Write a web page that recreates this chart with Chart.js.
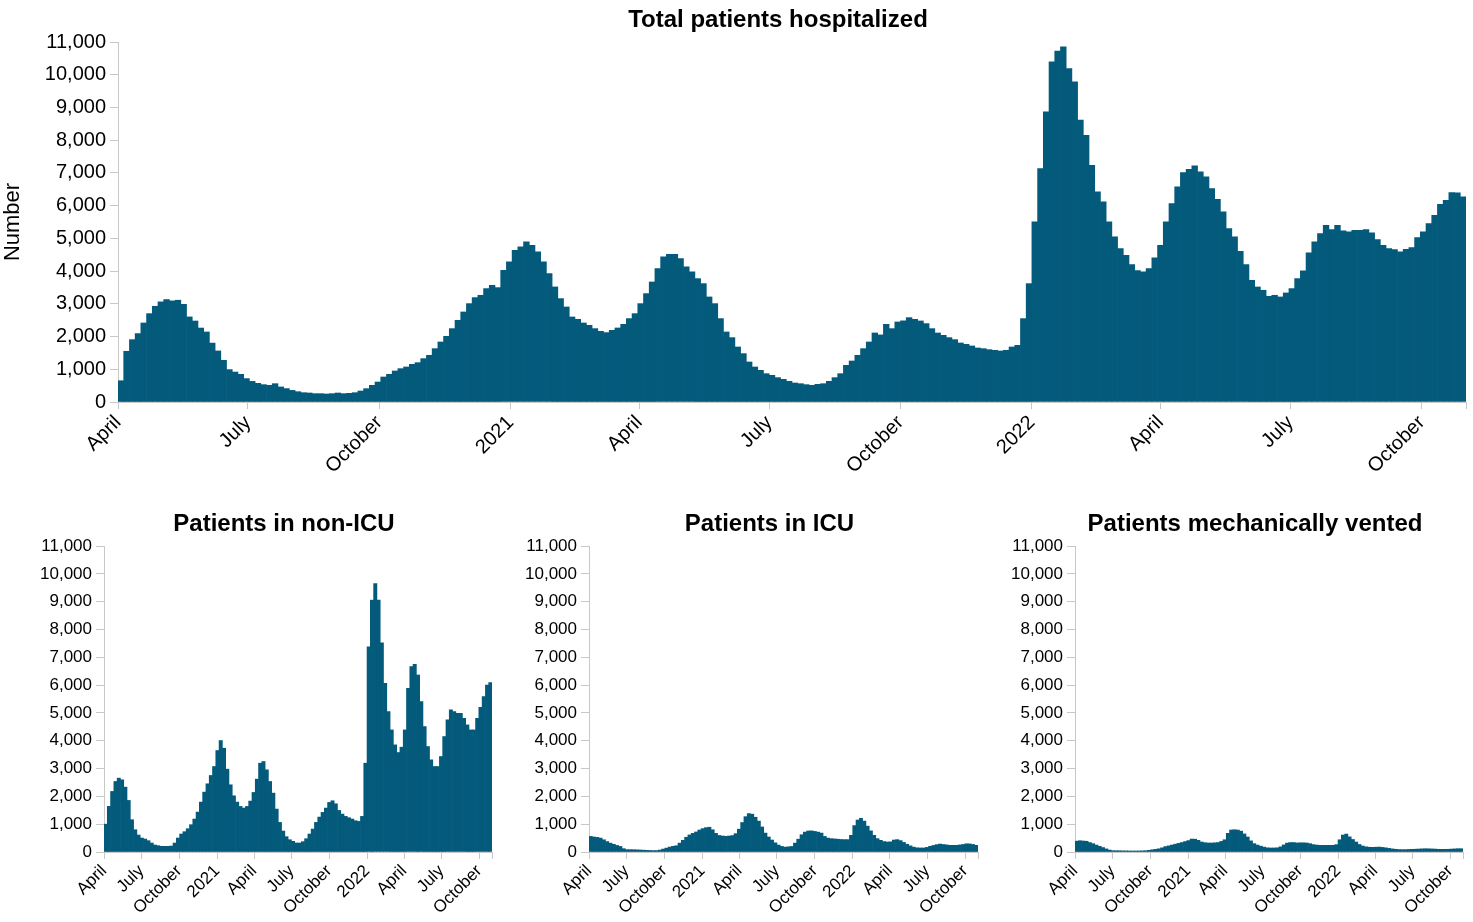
<!DOCTYPE html>
<html>
<head>
<meta charset="utf-8">
<title>Patients hospitalized</title>
<script src="https://cdn.jsdelivr.net/npm/chart.js@4.4.0/dist/chart.umd.min.js"></script>
<style>
  html, body { margin: 0; padding: 0; background: #fff; }
  #wrap { position: relative; width: 1473px; height: 922px; overflow: hidden; }
  #wrap canvas { position: absolute; }
</style>
</head>
<body>
<div id="wrap">
  <canvas id="total"></canvas>
  <canvas id="nonIcu"></canvas>
  <canvas id="icu"></canvas>
  <canvas id="vented"></canvas>
</div>
<script>
// Reporting period and axis ticks
const startDate = '2020-04-01';
const endDate = '2022-11-01';
const tickDates = ['2020-04-01', '2020-07-01', '2020-10-01', '2021-01-01', '2021-04-01', '2021-07-01',
                   '2021-10-01', '2022-01-01', '2022-04-01', '2022-07-01', '2022-10-01', '2022-11-01'];
const tickLabels = ['April', 'July', 'October', '2021', 'April', 'July',
                    'October', '2022', 'April', 'July', 'October', ''];
const yTicks = [0, 1000, 2000, 3000, 4000, 5000, 6000, 7000, 8000, 9000, 10000, 11000];

// Total patients hospitalized, one value per 4-day period starting 2020-04-01
const totalStepDays = 4;
const totalHospitalized = [
  650, 1550, 1905, 2090, 2415, 2700, 2925, 3060, 3130, 3090, 3110, 2985, 2600, 2475, 2260, 2140,
  1800, 1560, 1275, 990, 915, 845, 715, 630, 570, 530, 510, 560, 460, 410, 355, 315,
  285, 275, 255, 255, 245, 255, 275, 255, 265, 285, 336, 408, 510, 611, 764, 846,
  948, 1019, 1070, 1151, 1202, 1325, 1427, 1630, 1834, 2007, 2242, 2497, 2751, 3006, 3190, 3261,
  3465, 3566, 3495, 4025, 4280, 4636, 4738, 4891, 4789, 4586, 4280, 3923, 3516, 3159, 2904, 2598,
  2527, 2415, 2343, 2242, 2160, 2120, 2190, 2262, 2374, 2548, 2700, 3006, 3312, 3668, 4076, 4433,
  4514, 4514, 4382, 4127, 3974, 3770, 3617, 3210, 3006, 2548, 2140, 1967, 1681, 1478, 1223, 1070,
  968, 866, 815, 744, 693, 632, 581, 560, 530, 510, 540, 560, 632, 744, 866, 1121,
  1253, 1427, 1630, 1834, 2109, 2050, 2374, 2242, 2446, 2480, 2578, 2527, 2476, 2395, 2242, 2109,
  2038, 1967, 1906, 1804, 1763, 1712, 1651, 1630, 1600, 1580, 1559, 1580, 1681, 1732, 2548, 3617,
  5503, 7133, 8865, 10394, 10720, 10852, 10190, 9782, 8611, 8152, 7235, 6420, 6114, 5503, 5044, 4687,
  4484, 4198, 4015, 3974, 4076, 4402, 4789, 5503, 6063, 6573, 7011, 7113, 7215, 7031, 6878, 6522,
  6196, 5808, 5299, 5044, 4606, 4198, 3719, 3515, 3414, 3230, 3261, 3210, 3332, 3465, 3770, 4005,
  4555, 4891, 5146, 5401, 5268, 5401, 5227, 5197, 5248, 5248, 5268, 5166, 4962, 4789, 4687, 4657,
  4586, 4667, 4718, 5024, 5197, 5452, 5706, 6043, 6165, 6399, 6389, 6267
];

// Breakdown by level of care, one value per 8-day period starting 2020-04-01
const unitStepDays = 8;
const patientsNonIcu = [
  1000, 1640, 2177, 2535, 2655, 2595, 2332, 1854, 1160, 800, 610, 502, 466, 407, 323, 251,
  227, 203, 203, 203, 215, 323, 502, 646, 730, 837, 981, 1184, 1435, 1794, 2153, 2452,
  2751, 3073, 3648, 4007, 3732, 2978, 2416, 2021, 1794, 1638, 1579, 1638, 1830, 2141, 2619, 3193,
  3253, 2954, 2535, 2117, 1543, 1064, 753, 550, 442, 383, 323, 323, 371, 478, 646, 825,
  1064, 1256, 1423, 1579, 1782, 1842, 1734, 1495, 1363, 1280, 1232, 1184, 1124, 1100, 1280, 3193,
  7379, 9053, 9651, 9053, 7523, 6064, 5047, 4389, 3851, 3576, 3767, 4389, 5884, 6662, 6745, 6363,
  5406, 4509, 3791, 3313, 3073, 3073, 3432, 4150, 4748, 5107, 5047, 4987, 4987, 4808, 4569, 4389,
  4389, 4808, 5203, 5585, 6004, 6088
];
const patientsIcu = [
  560, 540, 525, 500, 440, 375, 318, 275, 235, 200, 120, 85, 84, 82, 78, 72,
  66, 60, 55, 50, 52, 70, 105, 140, 178, 205, 225, 320, 420, 530, 615, 670,
  720, 790, 840, 875, 890, 800, 670, 595, 575, 562, 575, 590, 660, 820, 1060, 1270,
  1380, 1360, 1250, 1110, 900, 680, 540, 430, 330, 250, 200, 175, 185, 200, 320, 460,
  620, 715, 755, 760, 740, 715, 680, 560, 500, 480, 470, 460, 450, 445, 445, 600,
  950, 1150, 1210, 1110, 930, 760, 600, 480, 420, 375, 360, 365, 430, 445, 410, 345,
  280, 220, 175, 150, 145, 145, 165, 205, 235, 265, 285, 270, 255, 240, 240, 240,
  255, 270, 295, 290, 270, 240
];
const patientsVented = [
  390, 405, 395, 385, 340, 300, 250, 205, 160, 112, 70, 48, 46, 45, 42, 40,
  38, 36, 36, 38, 42, 46, 60, 80, 95, 115, 150, 195, 220, 250, 280, 310,
  340, 375, 410, 465, 460, 420, 360, 335, 323, 323, 330, 340, 380, 440, 670, 790,
  800, 790, 750, 650, 540, 400, 300, 250, 210, 175, 150, 144, 144, 150, 185, 255,
  320, 340, 340, 325, 330, 330, 323, 300, 265, 250, 240, 240, 240, 240, 240, 265,
  440, 610, 645, 545, 450, 360, 270, 215, 185, 172, 168, 172, 178, 165, 150, 130,
  112, 98, 88, 84, 84, 90, 96, 100, 106, 112, 118, 115, 110, 105, 98, 96,
  96, 98, 105, 112, 118, 118
];

const BAR_COLOR = '#035a7b';
const AXIS_COLOR = '#c8c8c8';
const FONT_FAMILY = '"Liberation Sans", Arial, Helvetica, sans-serif';

Chart.defaults.font.family = FONT_FAMILY;
Chart.defaults.color = '#000';

const DAY_MS = 86400000;
const dayOf = (d) => (Date.parse(d) - Date.parse(startDate)) / DAY_MS;
const lastDay = dayOf(endDate);
const tickDays = tickDates.map(dayOf);

// Draws a panel heading centred over the plot
const panelTitle = {
  id: 'panelTitle',
  afterDraw(chart, args, opts) {
    if (!opts || !opts.text) return;
    const { ctx, chartArea } = chart;
    ctx.save();
    ctx.font = 'bold 24px ' + FONT_FAMILY;
    ctx.fillStyle = '#000';
    ctx.textAlign = 'center';
    ctx.textBaseline = 'middle';
    ctx.fillText(opts.text, (chartArea.left + chartArea.right) / 2 + opts.shift, opts.y);
    ctx.restore();
  }
};
Chart.register(panelTitle);

function makePanel(id, box, plot, values, stepDays, o) {
  const canvas = document.getElementById(id);
  canvas.width = box.width;
  canvas.height = box.height;
  canvas.style.left = box.left + 'px';
  canvas.style.top = box.top + 'px';
  canvas.style.width = box.width + 'px';
  canvas.style.height = box.height + 'px';

  const points = values.map((v, i) => ({ x: i * stepDays + stepDays / 2, y: v }));

  return new Chart(canvas, {
    type: 'bar',
    data: {
      datasets: [{
        data: points,
        backgroundColor: BAR_COLOR,
        borderWidth: 0,
        barPercentage: 1,
        categoryPercentage: 1
      }]
    },
    options: {
      responsive: false,
      animation: false,
      devicePixelRatio: 1,
      layout: {
        padding: {
          top: plot.top - box.top,
          right: box.left + box.width - plot.right,
          bottom: 0,
          left: 0
        }
      },
      plugins: {
        legend: { display: false },
        tooltip: { enabled: false },
        panelTitle: { text: o.title, y: o.titleY, shift: -14 }
      },
      scales: {
        x: {
          type: 'linear',
          offset: false,
          min: 0,
          max: lastDay,
          afterBuildTicks(scale) {
            scale.ticks = tickDays.map(v => ({ value: v }));
          },
          afterFit(scale) {
            scale.height = box.top + box.height - plot.bottom;
            scale.paddingLeft = 0;
            scale.paddingRight = 0;
          },
          ticks: {
            autoSkip: false,
            minRotation: 45,
            maxRotation: 45,
            padding: o.xPad,
            font: { size: o.tickSize },
            color: '#000',
            callback(value, index) { return tickLabels[index]; }
          },
          grid: {
            offset: false,
            drawOnChartArea: false,
            drawTicks: true,
            tickLength: 7,
            color: AXIS_COLOR
          },
          border: { display: true, color: AXIS_COLOR, width: 1 }
        },
        y: {
          min: 0,
          max: 11000,
          afterBuildTicks(scale) {
            scale.ticks = yTicks.map(v => ({ value: v }));
          },
          afterFit(scale) {
            scale.width = plot.left - box.left;
          },
          ticks: {
            padding: 4,
            font: { size: o.tickSize },
            color: '#000',
            callback(value) { return value.toLocaleString('en-US'); }
          },
          title: {
            display: !!o.yTitle,
            text: o.yTitle || '',
            font: { size: 22 },
            color: '#000',
            padding: { top: 0, bottom: 0 }
          },
          grid: {
            drawOnChartArea: false,
            drawTicks: true,
            tickLength: 8,
            color: AXIS_COLOR
          },
          border: { display: true, color: AXIS_COLOR, width: 1 }
        }
      }
    }
  });
}

makePanel('total',
  { left: 0, top: 0, width: 1473, height: 480 },
  { left: 118, top: 42, right: 1466, bottom: 402 },
  totalHospitalized, totalStepDays,
  { title: 'Total patients hospitalized', titleY: 20, tickSize: 20, xPad: 2, yTitle: 'Number' });

makePanel('nonIcu',
  { left: 0, top: 490, width: 495, height: 432 },
  { left: 104, top: 546, right: 492, bottom: 852 },
  patientsNonIcu, unitStepDays,
  { title: 'Patients in non-ICU', titleY: 34, tickSize: 17, xPad: 2 });

makePanel('icu',
  { left: 495, top: 490, width: 490, height: 432 },
  { left: 589, top: 546, right: 978, bottom: 852 },
  patientsIcu, unitStepDays,
  { title: 'Patients in ICU', titleY: 34, tickSize: 17, xPad: 2 });

makePanel('vented',
  { left: 985, top: 490, width: 488, height: 432 },
  { left: 1075, top: 546, right: 1463, bottom: 852 },
  patientsVented, unitStepDays,
  { title: 'Patients mechanically vented', titleY: 34, tickSize: 17, xPad: 2 });
</script>
</body>
</html>
